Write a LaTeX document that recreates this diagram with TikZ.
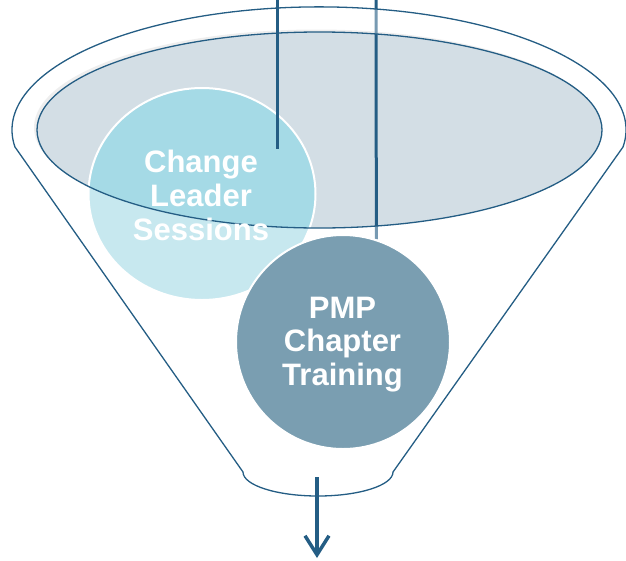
\documentclass[tikz,border=0pt]{standalone}
\usepackage{fontspec}
\setmainfont{Liberation Sans}
\usetikzlibrary{arrows.meta,shapes.geometric}
\definecolor{rimblue}{HTML}{245D84}
\definecolor{bowlfill}{HTML}{D3DEE5}
\definecolor{lightcirc}{HTML}{A5DAE6}
\definecolor{darkcirc}{HTML}{7A9EB1}
\tikzset{
  rim/.style={draw=rimblue, line width=1.3pt},
  bubble/.style={ellipse, draw=white, line width=2pt, inner sep=0pt},
  stagetext/.style={text=white, align=center, font=\fontsize{31}{33.7}\selectfont\bfseries},
  callout/.style={draw=rimblue, line width=3pt},
}
\begin{document}
\begin{tikzpicture}[x=1pt, y=-1pt]
\useasboundingbox (0,0) rectangle (626,560);

% soft edge and fill of the bowl opening
\fill[black!10] (316.5,127.5) ellipse [x radius=282.5, y radius=98];
\fill[bowlfill] (319.5,130) ellipse [x radius=282.5, y radius=98];

% callout line that passes behind the funnel wall
\coordinate (t2) at (376,0);
\node[bubble, fill=darkcirc, minimum width=214pt, minimum height=214pt] (c2) at (343,342) {};
\draw[callout] (t2) -- (c2.72);

% first stage
\node[bubble, fill=lightcirc, minimum width=227pt, minimum height=212pt] (c1) at (202,194) {};

% translucent funnel wall with its outline
\path[rim, fill=white, fill opacity=0.38, even odd rule]
  (15,147) -- (243,472)
  arc [start angle=180, end angle=0, x radius=75, y radius=24]
  -- (623,147)
  arc [start angle=8, end angle=-188, x radius=307, y radius=123]
  -- cycle
  (319.5,130) ellipse [x radius=282.5, y radius=98];

% second stage on top
\node[bubble, fill=darkcirc, minimum width=214pt, minimum height=214pt] at (c2.center) {};

% callout line into the first stage
\coordinate (t1) at (277,0);
\coordinate (e1) at (277,149);
\draw[callout] (t1) -- (e1);

% stage labels
\node[stagetext] (l1) at (201,195.5) {Change\\Leader\\Sessions};
\node[stagetext] (l2) at (342.5,344.5) {PMP\\Chapter\\Training};

% output arrow
\coordinate (a1) at (317,477);
\coordinate (a2) at (317,558);
\draw[draw=rimblue, line width=3.5pt, -{Straight Barb[length=19pt, width=24pt, line width=3.5pt]}] (a1) -- (a2);
\end{tikzpicture}
\end{document}
